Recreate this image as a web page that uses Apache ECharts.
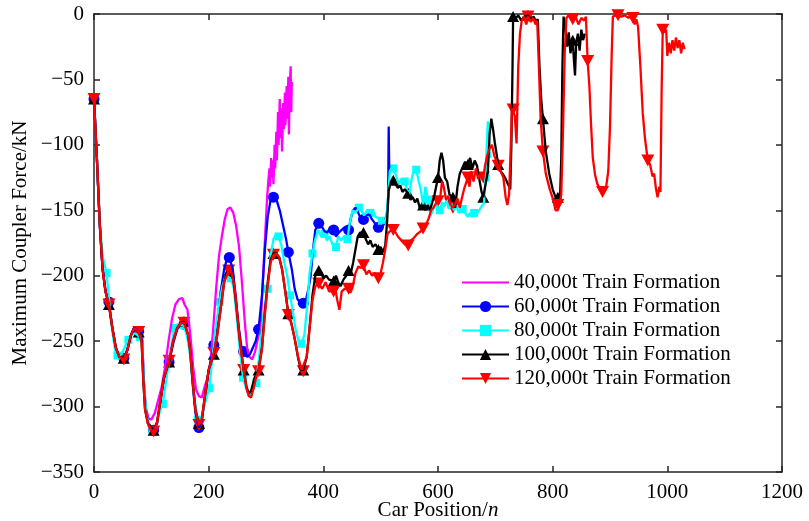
<!DOCTYPE html>
<html>
<head>
<meta charset="utf-8">
<script src="https://cdn.jsdelivr.net/npm/echarts@6/dist/echarts.min.js"></script>
<style>
  html, body { margin: 0; padding: 0; background: #fff; }
  #chart { width: 809px; height: 521px; }
</style>
</head>
<body>
<div id="chart"></div>
<script>
// 刻度
var xTicks = [0, 200, 400, 600, 800, 1000, 1200];
var yTicks = [-350, -300, -250, -200, -150, -100, -50, 0];

var names = ['40,000t Train Formation', '60,000t Train Formation', '80,000t Train Formation',
  '100,000t Train Formation', '120,000t Train Formation'];

// [车位, 最大车钩力 kN]
var line40 = [[0,-65],[5,-110],[10,-160],[15,-195],[20,-212],[26,-222],[32,-240],[38,-255],[44,-262],[52,-264],
  [58,-257],[64,-246],[70,-240],[76,-242],[80,-244],[84,-250],[87,-280],[90,-300],[95,-309],[100,-310],
  [106,-305],[112,-295],[118,-285],[124,-270],[130,-250],[136,-233],[142,-222],[148,-218],[154,-217],[158,-222],
  [163,-226],[168,-245],[173,-270],[178,-287],[183,-292],[188,-293],[193,-285],[198,-278],[203,-268],[208,-240],
  [213,-210],[218,-185],[223,-170],[228,-157],[233,-149],[238,-148],[243,-152],[248,-162],[253,-178],[258,-205],
  [263,-235],[267,-255],[271,-262],[276,-264],[281,-258],[286,-248],[291,-235],[295,-200],[299,-165],[302,-140],
  [304,-128],[306,-118],[307,-132],[309,-110],[310,-125],[312,-112],[313,-130],[315,-100],[316,-118],[318,-90],
  [319,-112],[321,-75],[322,-100],[324,-65],[325,-95],[327,-72],[328,-105],[330,-68],[331,-88],[333,-60],
  [334,-85],[336,-55],[337,-80],[339,-48],[340,-92],[341,-60],[343,-40],[344,-75],[345,-52]];

var line60 = [[0,-65],[5,-110],[10,-160],[15,-195],[20,-211],[26,-220],[32,-240],[38,-255],[44,-262],[52,-263],
  [58,-257],[64,-246],[70,-240],[76,-242],[80,-244],[84,-250],[87,-282],[90,-302],[95,-313],[104,-318],
  [110,-313],[116,-296],[122,-279],[131,-266],[138,-252],[145,-241],[152,-237],[157,-237],[164,-246],[168,-260],
  [172,-282],[177,-305],[183,-316],[188,-311],[194,-292],[200,-273],[209,-253],[215,-235],[221,-212],[227,-195],
  [232,-187],[236,-186],[242,-195],[247,-215],[252,-238],[257,-254],[261,-258],[267,-262],[272,-260],[277,-255],
  [282,-250],[287,-241],[293,-215],[298,-180],[303,-155],[308,-142],[313,-140],[319,-143],[324,-150],[330,-162],
  [335,-172],[339,-182],[345,-195],[350,-210],[355,-218],[360,-221],[365,-221],[370,-218],[374,-210],[378,-200],
  [382,-180],[386,-165],[392,-160],[397,-162],[402,-166],[407,-167],[412,-163],[418,-165],[422,-170],[427,-167],
  [432,-165],[437,-163],[444,-165],[448,-156],[452,-150],[456,-148],[460,-151],[465,-156],[470,-157],[475,-154],
  [480,-153],[485,-157],[490,-160],[496,-163],[500,-164],[504,-162],[508,-158],[511,-152],[513,-140],[514,-86],[515,-120]];

var line80 = [[0,-65],[5,-110],[10,-160],[15,-185],[22,-198],[27,-222],[32,-243],[37,-257],[41,-261],[48,-260],
  [53,-255],[60,-249],[66,-245],[72,-244],[80,-247],[84,-252],[87,-280],[91,-305],[96,-314],[102,-318],
  [108,-315],[114,-305],[120,-298],[126,-280],[132,-262],[140,-240],[146,-237],[152,-238],[157,-238],[163,-248],
  [168,-262],[174,-290],[181,-310],[186,-312],[192,-300],[201,-286],[206,-265],[212,-240],[219,-220],[224,-208],
  [230,-200],[239,-202],[244,-210],[249,-232],[254,-255],[260,-278],[266,-287],[271,-292],[276,-288],[283,-282],
  [288,-262],[293,-240],[298,-222],[303,-210],[308,-185],[313,-172],[318,-168],[322,-170],[327,-177],[332,-190],
  [337,-200],[342,-215],[347,-228],[352,-242],[357,-250],[362,-252],[367,-245],[372,-222],[376,-198],[381,-183],
  [386,-172],[391,-165],[396,-170],[402,-168],[406,-173],[411,-170],[416,-176],[422,-178],[426,-170],[431,-173],
  [436,-170],[442,-172],[446,-160],[451,-150],[456,-152],[462,-148],[466,-150],[471,-154],[476,-150],[482,-152],
  [486,-150],[491,-155],[496,-156],[502,-158],[506,-160],[510,-155],[513,-140],[516,-120],[520,-117],[524,-120],
  [528,-125],[532,-130],[536,-126],[542,-128],[546,-134],[550,-138],[554,-126],[558,-120],[562,-119],[566,-127],
  [570,-134],[574,-146],[578,-132],[583,-142],[587,-154],[591,-150],[596,-145],[603,-150],[607,-144],[611,-147],
  [615,-142],[619,-149],[623,-145],[628,-150],[632,-146],[636,-152],[643,-149],[647,-152],[652,-155],[656,-152],
  [660,-155],[664,-151],[668,-152],[672,-150],[676,-147],[680,-145],[683,-125],[685,-100],[687,-82],[689,-95],[691,-110]];

var line100 = [[0,-65],[5,-110],[10,-160],[15,-195],[20,-212],[26,-222],[32,-240],[38,-255],[44,-262],[52,-263],
  [58,-257],[64,-246],[70,-240],[78,-243],[83,-250],[86,-280],[89,-302],[94,-313],[104,-318],[110,-312],
  [116,-295],[122,-278],[131,-266],[138,-250],[145,-240],[152,-236],[157,-235],[164,-245],[168,-258],[172,-280],
  [177,-303],[183,-313],[188,-310],[194,-290],[200,-272],[209,-260],[215,-245],[221,-225],[227,-205],[232,-197],
  [237,-197],[243,-203],[248,-222],[254,-248],[261,-272],[266,-285],[270,-290],[274,-288],[280,-278],[287,-272],
  [293,-255],[298,-228],[303,-205],[308,-188],[313,-183],[318,-183],[323,-186],[328,-195],[333,-210],[339,-229],
  [344,-236],[350,-248],[356,-263],[361,-272],[365,-272],[371,-262],[376,-240],[381,-215],[386,-200],[392,-196],
  [396,-197],[400,-202],[405,-200],[410,-203],[418,-204],[422,-200],[426,-205],[430,-208],[435,-203],[440,-200],
  [444,-196],[448,-198],[452,-190],[456,-180],[460,-170],[464,-167],[470,-167],[474,-172],[478,-176],[482,-173],
  [486,-178],[491,-176],[496,-180],[500,-178],[504,-182],[508,-177],[511,-160],[514,-135],[518,-128],[522,-127],
  [526,-130],[530,-133],[534,-131],[538,-136],[542,-134],[548,-137],[552,-142],[556,-140],[560,-144],[564,-141],
  [568,-148],[574,-146],[578,-150],[582,-146],[586,-150],[590,-144],[594,-138],[600,-125],[603,-112],[606,-106],
  [609,-112],[612,-125],[616,-128],[620,-138],[626,-140],[630,-148],[634,-132],[638,-122],[642,-118],[647,-113],
  [652,-115],[656,-110],[660,-118],[664,-112],[668,-116],[672,-126],[676,-136],[679,-140],[683,-130],[687,-120],
  [690,-92],[693,-80],[696,-88],[699,-98],[705,-115],[709,-120],[714,-123],[718,-126],[722,-130],[726,-134],
  [728,-100],[730,-40],[731,-2],[736,-3],[740,-1],[745,-5],[750,-2],[757,-1],[762,-4],[767,-2],
  [771,-6],[774,-4],[777,-40],[780,-65],[783,-80],[788,-105],[794,-122],[800,-134],[805,-140],[809,-140],
  [813,-138],[815,-110],[817,-40],[819,-2],[822,-10],[825,-25],[828,-14],[831,-30],[835,-20],[837,-35],
  [839,-47],[841,-22],[844,-15],[847,-28],[850,-12],[853,-20],[856,-15]];

var line120 = [[0,-65],[5,-110],[10,-160],[15,-195],[20,-212],[26,-222],[32,-240],[38,-255],[44,-262],[52,-264],
  [58,-257],[64,-246],[70,-240],[78,-243],[83,-250],[86,-280],[89,-302],[94,-313],[100,-318],[104,-319],
  [110,-312],[116,-295],[122,-278],[131,-265],[138,-250],[145,-240],[152,-236],[157,-236],[164,-245],[168,-258],
  [172,-280],[177,-303],[183,-314],[188,-310],[194,-290],[200,-272],[209,-259],[215,-245],[221,-225],[227,-205],
  [235,-196],[240,-198],[245,-208],[250,-230],[255,-252],[261,-272],[266,-286],[270,-292],[274,-293],[279,-285],
  [283,-277],[287,-273],[293,-256],[298,-230],[303,-207],[308,-190],[313,-184],[318,-183],[323,-186],[328,-195],
  [333,-210],[339,-230],[344,-236],[350,-248],[356,-262],[362,-272],[365,-273],[371,-262],[376,-240],[381,-219],
  [386,-208],[392,-206],[398,-210],[404,-205],[410,-212],[418,-212],[421,-210],[424,-218],[428,-226],[432,-212],
  [437,-210],[444,-210],[447,-213],[451,-209],[456,-198],[461,-193],[466,-194],[470,-192],[475,-199],[480,-196],
  [485,-200],[490,-198],[496,-202],[500,-198],[504,-190],[508,-180],[512,-168],[516,-166],[522,-165],[526,-167],
  [530,-170],[536,-173],[542,-176],[548,-177],[553,-173],[558,-171],[564,-168],[570,-166],[574,-164],[580,-160],
  [584,-156],[588,-150],[592,-148],[596,-145],[600,-143],[604,-140],[607,-128],[610,-132],[614,-142],[618,-139],
  [622,-146],[626,-148],[630,-145],[634,-141],[638,-148],[642,-140],[646,-133],[652,-125],[655,-132],[658,-120],
  [662,-128],[666,-118],[670,-126],[674,-122],[679,-125],[682,-116],[686,-108],[690,-103],[694,-100],[698,-108],
  [705,-116],[710,-121],[714,-125],[718,-140],[721,-146],[724,-138],[727,-100],[729,-72],[731,-73],[734,-78],
  [737,-99],[740,-40],[743,-15],[746,-5],[750,-2],[754,-8],[757,-2],[762,-6],[766,-3],[770,-8],
  [773,-5],[776,-40],[779,-80],[783,-105],[788,-122],[795,-134],[801,-142],[805,-150],[809,-150],[812,-145],
  [815,-138],[818,-90],[821,-30],[824,-3],[828,-1],[835,-4],[840,-2],[845,-8],[850,-3],[855,-5],
  [858,-2],[861,-36],[864,-55],[867,-85],[870,-110],[874,-123],[878,-130],[883,-134],[887,-137],[893,-133],
  [897,-120],[900,-86],[903,-30],[905,-2],[910,-1],[914,-1],[920,-2],[926,-1],[932,-3],[936,-1],
  [940,-3],[943,-8],[946,-4],[949,-10],[953,-40],[957,-75],[961,-95],[966,-112],[970,-115],[974,-124],
  [977,-122],[980,-133],[983,-140],[986,-132],[988,-136],[990,-60],[992,-12],[995,-14],[998,-12],[1000,-32],
  [1003,-22],[1006,-30],[1009,-20],[1012,-28],[1015,-18],[1018,-26],[1021,-20],[1024,-30],[1027,-22],[1030,-27]];

// 标记点
var mark60 = [[0,-65],[26,-220],[52,-263],[78,-243],[104,-318],[131,-266],[157,-237],[183,-316],[209,-253],[236,-186],
  [261,-258],[287,-241],[313,-140],[339,-182],[365,-221],[392,-160],[418,-165],[444,-165],[470,-157],[496,-163]];

var mark80 = [[22,-198],[41,-261],[60,-249],[80,-247],[102,-318],[120,-298],[140,-240],[157,-238],[181,-310],[201,-286],
  [219,-220],[239,-202],[260,-278],[283,-282],[303,-210],[322,-170],[342,-215],[362,-252],[381,-183],[402,-168],
  [422,-178],[442,-172],[462,-148],[482,-152],[502,-158],[522,-118],[542,-128],[562,-119],[583,-142],[603,-150],
  [623,-145],[643,-149],[663,-152],[683,-125]];

var mark100 = [[0,-65],[26,-222],[52,-263],[78,-243],[104,-318],[131,-266],[157,-235],[183,-313],[209,-260],[235,-197],
  [261,-272],[287,-272],[313,-183],[339,-229],[365,-272],[392,-196],[418,-204],[444,-196],[470,-167],[496,-180],
  [522,-127],[548,-137],[574,-146],[600,-125],[626,-140],[652,-115],[679,-140],[705,-115],[731,-2],[757,-1],
  [783,-80],[809,-140],[835,-20]];

var mark120 = [[0,-65],[26,-222],[52,-264],[78,-243],[104,-319],[131,-265],[157,-236],[183,-314],[209,-259],[235,-196],
  [261,-272],[287,-273],[313,-184],[339,-230],[365,-273],[392,-206],[418,-212],[444,-210],[470,-192],[496,-202],
  [522,-165],[548,-177],[574,-164],[600,-143],[626,-148],[652,-125],[679,-125],[705,-116],[731,-73],[757,-2],
  [783,-105],[809,-146],[835,-4],[861,-36],[887,-136],[914,-1],[940,-3],[966,-112],[992,-12]];

var font = "'Liberation Serif', 'Times New Roman', serif";
var axisColor = '#262626';

function lineSeries(name, data, color, symbol, rotate) {
  return {
    name: name, type: 'line', data: data,
    symbol: symbol, symbolRotate: rotate || 0, showSymbol: false,
    lineStyle: { color: color, width: 2.3 },
    itemStyle: { color: color },
    silent: true
  };
}
function markSeries(name, data, color, symbol, size, rotate) {
  return {
    name: name, type: 'scatter', data: data,
    symbol: symbol, symbolSize: size, symbolRotate: rotate || 0,
    itemStyle: { color: color, opacity: 1 },
    silent: true
  };
}

var option = {
  animation: false,
  backgroundColor: '#fff',
  grid: { left: 94, right: 27, top: 14, bottom: 49, show: false, outerBoundsMode: 'none' },
  legend: {
    orient: 'vertical', left: 461, top: 272, padding: 0,
    itemWidth: 47, itemHeight: 14, itemGap: 3,
    textStyle: { fontFamily: font, fontSize: 21, color: '#000', lineHeight: 21 },
    data: [{ name: names[0], icon: 'path://M0,0H47V2H0Z' }, names[1], names[2], names[3], names[4]]
  },
  xAxis: [{
    type: 'value', min: xTicks[0], max: xTicks[xTicks.length - 1], interval: 200,
    name: '{a|Car Position/}{b|n}', nameLocation: 'middle', nameGap: 28, nameMoveOverlap: false,
    nameTextStyle: { rich: {
      a: { fontFamily: font, fontSize: 21, color: '#000' },
      b: { fontFamily: font, fontSize: 21, color: '#000', fontStyle: 'italic' } } },
    axisLine: { onZero: false, lineStyle: { color: axisColor, width: 1.5 } },
    axisTick: { inside: true, length: 6, lineStyle: { color: axisColor, width: 1.5 } },
    axisLabel: { fontFamily: font, fontSize: 21, color: '#000', margin: 10,
      formatter: function (v) { return String(v); } },
    splitLine: { show: false }
  }, {
    type: 'value', position: 'top', min: xTicks[0], max: xTicks[xTicks.length - 1], interval: 200,
    axisLine: { onZero: false, lineStyle: { color: axisColor, width: 1.5 } },
    axisTick: { inside: true, length: 6, lineStyle: { color: axisColor, width: 1.5 } },
    axisLabel: { show: false }, splitLine: { show: false }
  }],
  yAxis: [{
    type: 'value', min: yTicks[0], max: yTicks[yTicks.length - 1], interval: 50,
    name: 'Maximum Coupler Force/kN', nameLocation: 'middle', nameGap: 63, nameMoveOverlap: false,
    nameTextStyle: { fontFamily: font, fontSize: 21, color: '#000' },
    axisLine: { onZero: false, lineStyle: { color: axisColor, width: 1.5 } },
    axisTick: { inside: true, length: 6, lineStyle: { color: axisColor, width: 1.5 } },
    axisLabel: { fontFamily: font, fontSize: 21, color: '#000', margin: 10,
      formatter: function (v) { return String(v).replace('-', '\u2212'); } },
    splitLine: { show: false }
  }, {
    type: 'value', position: 'right', min: yTicks[0], max: yTicks[yTicks.length - 1], interval: 50,
    axisLine: { onZero: false, lineStyle: { color: axisColor, width: 1.5 } },
    axisTick: { inside: true, length: 6, lineStyle: { color: axisColor, width: 1.5 } },
    axisLabel: { show: false }, splitLine: { show: false }
  }],
  series: [
    lineSeries(names[0], line40, '#ff00ff', 'none'),
    lineSeries(names[1], line60, '#0000ff', 'circle'),
    markSeries('m60', mark60, '#0000ff', 'circle', 11),
    lineSeries(names[2], line80, '#00ffff', 'rect'),
    markSeries('m80', mark80, '#00ffff', 'rect', 8),
    lineSeries(names[3], line100, '#000000', 'triangle'),
    markSeries('m100', mark100, '#000000', 'triangle', [12, 11]),
    lineSeries(names[4], line120, '#ff0000', 'triangle', 180),
    markSeries('m120', mark120, '#ff0000', 'triangle', [13, 12], 180)
  ]
};

var myChart = echarts.init(document.getElementById('chart'));
myChart.setOption(option);
</script>
</body>
</html>
